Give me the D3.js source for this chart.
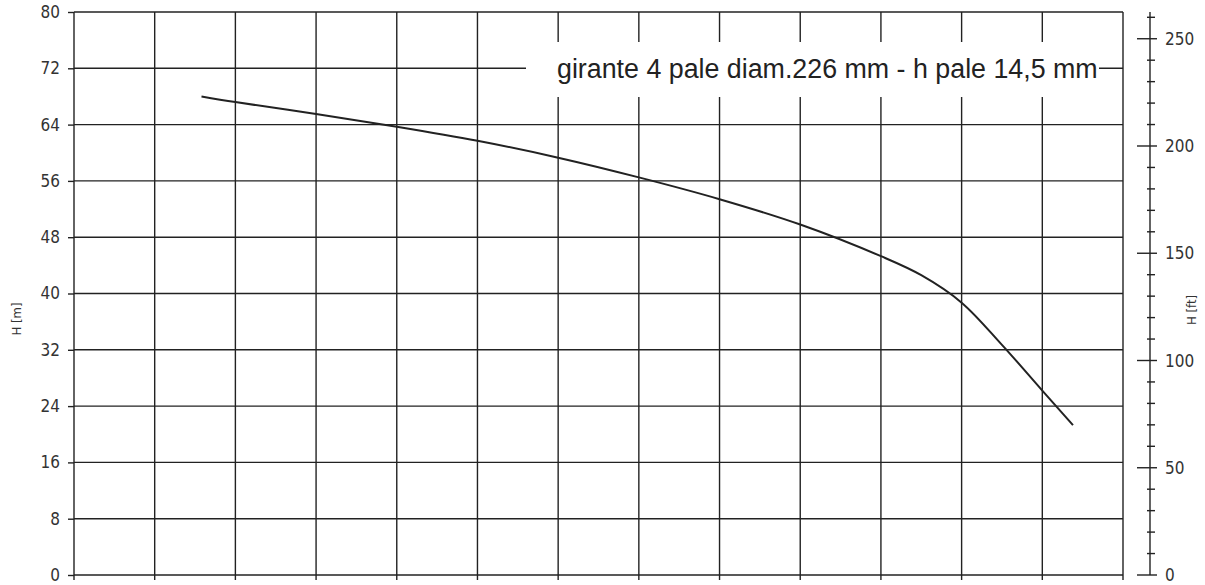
<!DOCTYPE html>
<html>
<head>
<meta charset="utf-8">
<script src="https://cdn.jsdelivr.net/npm/d3@7"></script>
<style>
  body { margin: 0; background: #fff; }
  svg { display: block; }
</style>
</head>
<body>
<div id="chart"></div>
<script>
// pump curve, x in grid units (axis has no labels)
var flow = [1.58, 2.0, 3.0, 4.0, 5.0, 6.0, 7.0, 8.0, 9.0, 10.0, 10.5, 11.0, 11.5, 12.0, 12.38];
var head = [68.0, 67.2, 65.5, 63.7, 61.7, 59.3, 56.5, 53.4, 49.8, 45.3, 42.6, 38.7, 32.7, 26.2, 21.3];

var headTicks = [0, 8, 16, 24, 32, 40, 48, 56, 64, 72, 80];
var ftMajor = [0, 50, 100, 150, 200, 250];
var caption = "girante 4 pale diam.226 mm - h pale 14,5 mm";

function pumpChart() {
    var width = 1205, height = 585;
    var left = 74, right = 1123, top = 12, bottom = 575;

    var svg = d3.select('#chart')
      .append('svg')
      .attr('width', width)
      .attr('height', height);

    var x = d3.scaleLinear().domain([0, 13]).range([left, right]);
    var y = d3.scaleLinear().domain([0, 80]).range([bottom, top]);
    var yFt = d3.scaleLinear().domain([0, 80 / 0.3048]).range([bottom, top]);

    var ink = '#222';
    var grid = svg.append('g').attr('stroke', ink).attr('stroke-width', 1.4);

    // vertical grid lines, with small ticks below the bottom
    grid.selectAll('.vx')
      .data(d3.range(0, 14))
      .enter()
      .append('line')
      .attr('x1', function(d) { return x(d); })
      .attr('x2', function(d) { return x(d); })
      .attr('y1', top)
      .attr('y2', bottom + 5);

    // horizontal grid lines
    grid.selectAll('.hy')
      .data(headTicks)
      .enter()
      .append('line')
      .attr('x1', left)
      .attr('x2', right)
      .attr('y1', function(d) { return y(d); })
      .attr('y2', function(d) { return y(d); });

    // left axis ticks + labels
    var axL = svg.append('g')
      .attr('transform', 'translate(' + left + ',0)')
      .call(d3.axisLeft(y).tickValues(headTicks).tickSize(6).tickPadding(8));
    axL.select('.domain').remove();
    axL.selectAll('line').attr('stroke', ink).attr('stroke-width', 1.4);
    axL.selectAll('text')
      .attr('fill', '#333')
      .style('font-family', '"DejaVu Sans Condensed", "DejaVu Sans", sans-serif')
      .style('font-size', '17px');

    // caption box
    svg.append('rect')
      .attr('x', 526)
      .attr('y', 42)
      .attr('width', 573)
      .attr('height', 55)
      .attr('fill', '#fff');

    svg.append('text')
      .attr('x', 557)
      .attr('y', 78)
      .attr('fill', ink)
      .style('font-family', '"Liberation Sans", Arial, sans-serif')
      .style('font-size', '26.8px')
      .text(caption);

    // curve
    var line = d3.line()
      .x(function(d, i) { return x(flow[i]); })
      .y(function(d) { return y(d); })
      .curve(d3.curveCatmullRom);

    svg.append('path')
      .datum(head)
      .attr('d', line)
      .attr('fill', 'none')
      .attr('stroke', ink)
      .attr('stroke-width', 2);

    // right axis in feet
    var axX = 1150;
    var axR = svg.append('g')
      .attr('transform', 'translate(' + axX + ',0)')
      .attr('stroke', ink)
      .attr('stroke-width', 1.4);
    axR.append('line')
      .attr('y1', top)
      .attr('y2', bottom);
    axR.selectAll('.minor')
      .data(d3.range(0, 261, 10))
      .enter()
      .append('line')
      .attr('x1', function(d) { return d % 50 === 0 ? -13 : -3; })
      .attr('x2', function(d) { return d % 50 === 0 ? 7 : 5; })
      .attr('y1', function(d) { return yFt(d); })
      .attr('y2', function(d) { return yFt(d); });

    svg.append('g')
      .selectAll('text')
      .data(ftMajor)
      .enter()
      .append('text')
      .attr('x', axX + 15)
      .attr('y', function(d) { return yFt(d); })
      .attr('dy', '0.36em')
      .attr('fill', '#333')
      .style('font-family', '"DejaVu Sans Condensed", "DejaVu Sans", sans-serif')
      .style('font-size', '17px')
      .text(function(d) { return d; });

    // axis titles
    svg.append('text')
      .attr('transform', 'translate(21,319) rotate(-90)')
      .attr('text-anchor', 'middle')
      .attr('fill', '#333')
      .style('font-family', '"DejaVu Sans Condensed", "DejaVu Sans", sans-serif')
      .style('font-size', '13px')
      .text('H [m]');

    svg.append('text')
      .attr('transform', 'translate(1196,310) rotate(-90)')
      .attr('text-anchor', 'middle')
      .attr('fill', '#333')
      .style('font-family', '"DejaVu Sans Condensed", "DejaVu Sans", sans-serif')
      .style('font-size', '13px')
      .text('H [ft]');
}

pumpChart();
</script>
</body>
</html>
